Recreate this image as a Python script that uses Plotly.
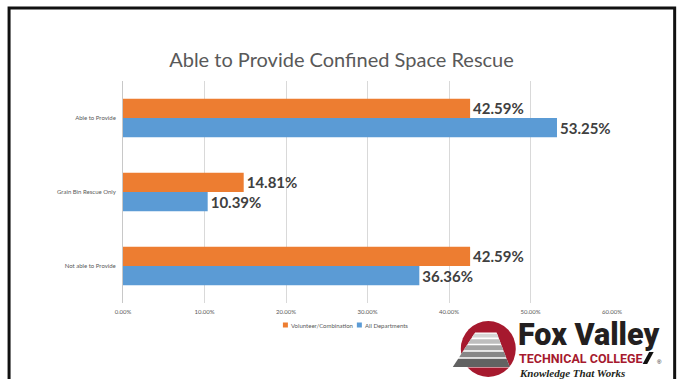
import plotly.graph_objects as go

# ---- data -------------------------------------------------------------
categories = ["Able to Provide", "Grain Bin Rescue Only", "Not able to Provide"]
series_names = ["Volunteer/Combination", "All Departments"]
volunteer_combination = [0.4259, 0.1481, 0.4259]
all_departments = [0.5325, 0.1039, 0.3636]
x_ticks = [0.0, 0.1, 0.2, 0.3, 0.4, 0.5, 0.6]

colors = ["#ED7D31", "#5B9BD5"]
title_text = "Able to Provide Confined Space Rescue"

# ---- canvas / plot-area geometry (pixels) -----------------------------
W, H = 683, 379
L, R, T, B = 123, 612.3, 81, 303


def fx(px):
    """pixel x -> paper x"""
    return (px - L) / (R - L)


def fy(py):
    """pixel y -> paper y"""
    return (B - py) / (B - T)


fig = go.Figure()
for name, vals, col in zip(series_names, [volunteer_combination, all_departments], colors):
    fig.add_trace(go.Bar(
        y=categories, x=vals, name=name, orientation="h",
        marker=dict(color=col, line=dict(width=0)),
        text=vals, texttemplate="%{x:.2%}", textposition="outside",
        textfont=dict(family="Lato", size=15, color="#404040", weight="bold"),
        constraintext="none", cliponaxis=False, showlegend=False,
    ))

fig.update_layout(
    width=W, height=H,
    margin=dict(l=L, r=W - R, t=T, b=H - B, pad=0),
    paper_bgcolor="white", plot_bgcolor="white",
    barmode="group", bargap=0.48, bargroupgap=0,
    title=dict(text=title_text, x=0.5, xref="container", xanchor="center",
               y=1 - 60 / H, yanchor="middle",
               font=dict(family="Lato", size=20, color="#595959")),
    xaxis=dict(range=[0, 0.6], tickvals=x_ticks, tickformat=".2%",
               showgrid=True, gridcolor="#D9D9D9", gridwidth=1,
               zeroline=False, showline=False, ticks="",
               ticklabelstandoff=4,
               tickfont=dict(family="Lato", size=6, color="#595959")),
    yaxis=dict(categoryorder="array", categoryarray=categories,
               autorange="reversed", showgrid=False, zeroline=False,
               showline=True, linecolor="#C8C8C8", linewidth=1, ticks="",
               ticklabelstandoff=5,
               tickfont=dict(family="Lato", size=6, color="#595959")),
)

shapes = []
annotations = []

# slide frame
shapes.append(dict(type="rect", xref="paper", yref="paper",
                   x0=fx(9), x1=fx(675), y0=fy(8), y1=fy(395),
                   line=dict(color="#111111", width=3), fillcolor="rgba(0,0,0,0)"))

# legend keys
legend_pos = [283, 357]
for name, col, lx in zip(series_names, colors, legend_pos):
    shapes.append(dict(type="rect", xref="paper", yref="paper",
                       x0=fx(lx), x1=fx(lx + 5), y0=fy(327.5), y1=fy(322.5),
                       line=dict(width=0), fillcolor=col))
    annotations.append(dict(text=name, x=fx(lx + 6.5), y=fy(325), xref="paper", yref="paper",
                            xanchor="left", yanchor="middle", showarrow=False,
                            font=dict(family="Lato", size=6, color="#595959")))

# college logo: red disc with stepped grey pyramid
shapes.append(dict(type="circle", xref="paper", yref="paper",
                   x0=fx(461), x1=fx(516), y0=fy(377), y1=fy(321),
                   line=dict(width=0), fillcolor="#A6192E"))


def xl(y):
    return 475 - (y - 333) * 22 / 34


def xr(y):
    return 497 + (y - 333) * 13 / 34


def trap(y0, y1, color):
    path = (f"M {fx(xl(y0))},{fy(y0)} L {fx(xr(y0))},{fy(y0)} "
            f"L {fx(xr(y1))},{fy(y1)} L {fx(xl(y1))},{fy(y1)} Z")
    return dict(type="path", xref="paper", yref="paper", path=path,
                line=dict(width=0), fillcolor=color)


shapes.append(trap(332.5, 367.5, "white"))
bands = [(333.7, 337.5, "#D6D6D6"), (339.2, 343.8, "#BEBEBE"), (345.3, 350.3, "#A3A3A3"),
         (351.8, 357.2, "#878787"), (358.7, 367.0, "#626262")]
for y0, y1, c in bands:
    shapes.append(trap(y0, y1, c))

# slash mark after COLLEGE
shapes.append(dict(type="path", xref="paper", yref="paper",
                   path=(f"M {fx(643)},{fy(364)} L {fx(647.5)},{fy(364)} "
                         f"L {fx(654)},{fy(352)} L {fx(649.5)},{fy(352)} Z"),
                   line=dict(width=0), fillcolor="#111111"))

annotations += [
    dict(text="Fox Valley", x=fx(516), y=fy(334.5), xanchor="left", yanchor="middle",
         font=dict(family="Roboto", size=30.5, color="#231F20", weight=900)),
    dict(text="TECHNICAL COLLEGE", x=fx(517), y=fy(358.5), xanchor="left", yanchor="middle",
         font=dict(family="Roboto", size=12.5, color="#A6192E", weight="bold")),
    dict(text="®", x=fx(655), y=fy(362), xanchor="left", yanchor="middle",
         font=dict(family="Liberation Sans", size=6, color="#111111")),
    dict(text="Knowledge That Works", x=fx(517), y=fy(373), xanchor="left", yanchor="middle",
         font=dict(family="Liberation Serif", size=11, color="#231F20",
                   style="italic", weight="bold")),
]
for a in annotations:
    a.setdefault("xref", "paper")
    a.setdefault("yref", "paper")
    a["showarrow"] = False

fig.update_layout(shapes=shapes, annotations=annotations)

fig.write_html("out.html")
